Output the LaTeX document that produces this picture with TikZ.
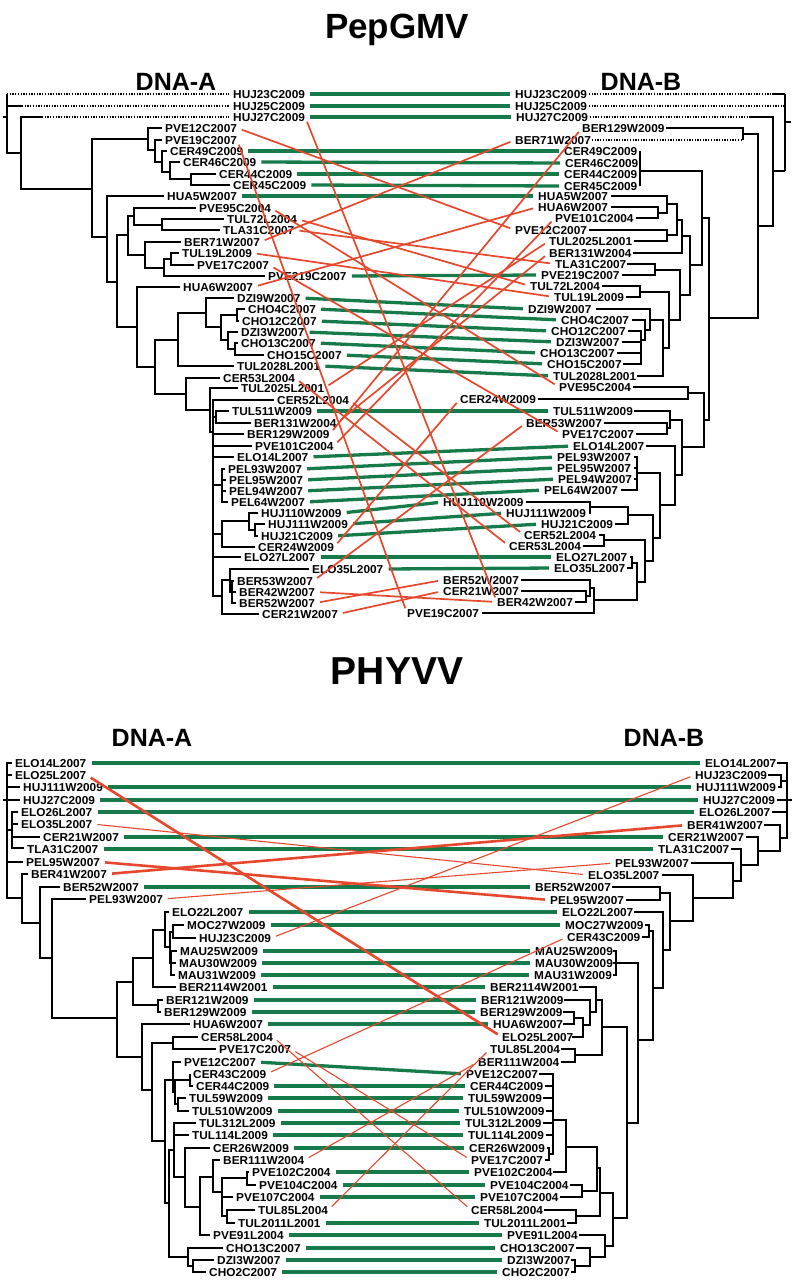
\documentclass[tikz,border=0pt]{standalone}
\usepackage{fontspec}
\setmainfont{Liberation Sans}
\newfontfamily\lblfont{Liberation Sans}[FakeStretch=1.03]
\definecolor{grn}{RGB}{22,122,74}
\definecolor{rd}{RGB}{230,72,45}

\begin{document}
\begin{tikzpicture}[x=1pt, y=-1pt,
  lbl/.style={font=\lblfont\bfseries\fontsize{11.5}{12}\selectfont, inner sep=0pt,
    anchor=west, text height=8.2pt, text depth=0pt},
  ttl/.style={font=\bfseries\fontsize{35}{40}\selectfont, anchor=base, inner sep=0pt},
  hdr/.style={font=\bfseries\fontsize{25}{28}\selectfont, anchor=base, inner sep=0pt},
  br/.style={line width=1.9pt},
  dots/.style={line width=1.3pt, dash pattern=on 1.3pt off 1.4pt},
  same/.style={draw=grn, line width=3.3pt, shorten <=5pt, shorten >=5pt},
  swap/.style={draw=rd, line width=1.7pt, shorten <=5pt, shorten >=5pt},
  swapthick/.style={swap, line width=2.6pt},
  swapthin/.style={swap, line width=1.1pt}
]
  \useasboundingbox (0,0) rectangle (794,1280);

  % Titles
  \node[ttl] (tpep) at (397,38) {PepGMV};
  \node[ttl, font=\bfseries\fontsize{39}{42}\selectfont] (tphy) at (397,684) {PHYVV};
  \node[hdr] (pepA) at (176,90) {DNA-A};
  \node[hdr] (pepB) at (641,90) {DNA-B};
  \node[hdr] (phyA) at (152,746) {DNA-A};
  \node[hdr] (phyB) at (664,746) {DNA-B};

  % PepGMV labels, DNA-A
  \foreach \n/\x/\y in {HUJ23C2009/233/94, HUJ25C2009/233/106, HUJ27C2009/233/117,
      PVE12C2007/165/128, PVE19C2007/165/140, CER49C2009/170/151, CER46C2009/183/162,
      CER44C2009/219/174, CER45C2009/233/185, HUA5W2007/167/196, PVE95C2004/199/208,
      TUL72L2004/227/219, TLA31C2007/223/230, BER71W2007/184/242, TUL19L2009/182/253,
      PVE17C2007/197/265, PVE219C2007/268/276, HUA6W2007/183/287, DZI9W2007/237/298,
      CHO4C2007/248/309, CHO12C2007/242/321, DZI3W2007/241/332, CHO13C2007/241/343,
      CHO15C2007/267/355, TUL2028L2001/237/366, CER53L2004/223/378, TUL2025L2001/241/388,
      CER52L2004/277/400, TUL511W2009/232/411, BER131W2004/254/423, BER129W2009/247/434,
      PVE101C2004/255/446, ELO14L2007/237/457, PEL93W2007/228/469, PEL95W2007/229/480,
      PEL94W2007/229/491, PEL64W2007/231/502, HUJ110W2009/261/513, HUJ111W2009/268/524,
      HUJ21C2009/261/536, CER24W2009/258/547, ELO27L2007/244/557, ELO35L2007/312/569,
      BER53W2007/237/581, BER42W2007/239/592, BER52W2007/239/603, CER21W2007/262/614}
    \node[lbl] (a\n) at (\x,\y) {\n};

  % PepGMV labels, DNA-B
  \foreach \n/\x/\y in {HUJ23C2009/515/94, HUJ25C2009/515/106, HUJ27C2009/516/117,
      BER129W2009/582/128, BER71W2007/515/140, CER49C2009/564/151, CER46C2009/565/163,
      CER44C2009/564/174, CER45C2009/564/186, HUA5W2007/538/196, HUA6W2007/538/207,
      PVE101C2004/555/218, PVE12C2007/515/230, TUL2025L2001/549/241, BER131W2004/549/253,
      TLA31C2007/555/264, PVE219C2007/541/275, TUL72L2004/530/286, TUL19L2009/554/297,
      DZI9W2007/528/309, CHO4C2007/561/320, CHO12C2007/551/331, DZI3W2007/556/342,
      CHO13C2007/540/353, CHO15C2007/547/364, TUL2028L2001/553/376, PVE95C2004/559/387,
      CER24W2009/460/399, TUL511W2009/553/411, BER53W2007/526/423, PVE17C2007/562/434,
      ELO14L2007/573/446, PEL93W2007/557/457, PEL95W2007/557/468, PEL94W2007/558/479,
      PEL64W2007/544/490, HUJ110W2009/443/502, HUJ111W2009/506/513, HUJ21C2009/541/524,
      CER52L2004/524/535, CER53L2004/509/546, ELO27L2007/556/557, ELO35L2007/554/568,
      BER52W2007/443/580, CER21W2007/443/591, BER42W2007/497/602, PVE19C2007/407/613}
    \node[lbl] (b\n) at (\x,\y) {\n};

  % PHYVV labels, DNA-A
  \foreach \n/\x/\y in {ELO14L2007/15/763, ELO25L2007/15/775, HUJ111W2009/23/787,
      HUJ27C2009/23/800, ELO26L2007/21/812, ELO35L2007/21/824, CER21W2007/43/837,
      TLA31C2007/27/849, PEL95W2007/26/862, BER41W2007/31/874, BER52W2007/63/887,
      PEL93W2007/89/899, ELO22L2007/172/912, MOC27W2009/187/925, HUJ23C2009/199/938,
      MAU25W2009/180/951, MAU30W2009/179/963, MAU31W2009/178/975, BER2114W2001/179/987,
      BER121W2009/166/1000, BER129W2009/164/1012, HUA6W2007/193/1024, CER58L2004/201/1037,
      PVE17C2007/219/1049, PVE12C2007/184/1062, CER43C2009/193/1074, CER44C2009/196/1086,
      TUL59W2009/189/1098, TUL510W2009/192/1111, TUL312L2009/199/1123, TUL114L2009/192/1135,
      CER26W2009/213/1148, BER111W2004/223/1160, PVE102C2004/252/1172, PVE104C2004/259/1185,
      PVE107C2004/236/1197, TUL85L2004/258/1210, TUL2011L2001/238/1223, PVE91L2004/213/1235,
      CHO13C2007/226/1248, DZI3W2007/217/1260, CHO2C2007/209/1272}
    \node[lbl] (c\n) at (\x,\y) {\n};

  % PHYVV labels, DNA-B
  \foreach \n/\x/\y in {ELO14L2007/705/763, HUJ23C2009/695/775, HUJ111W2009/696/787,
      HUJ27C2009/703/800, ELO26L2007/699/812, BER41W2007/687/825, CER21W2007/668/837,
      TLA31C2007/658/849, PEL93W2007/615/863, ELO35L2007/588/875, BER52W2007/535/887,
      PEL95W2007/550/900, ELO22L2007/562/912, MOC27W2009/565/925, CER43C2009/567/937,
      MAU25W2009/535/951, MAU30W2009/535/963, MAU31W2009/534/975, BER2114W2001/490/987,
      BER121W2009/481/1000, BER129W2009/480/1012, HUA6W2007/493/1024, ELO25L2007/502/1037,
      TUL85L2004/490/1049, BER111W2004/478/1062, PVE12C2007/466/1074, CER44C2009/470/1086,
      TUL59W2009/468/1098, TUL510W2009/464/1111, TUL312L2009/465/1123, TUL114L2009/468/1135,
      CER26W2009/469/1148, PVE17C2007/471/1160, PVE102C2004/474/1172, PVE104C2004/490/1185,
      PVE107C2004/480/1197, CER58L2004/471/1210, TUL2011L2001/484/1223, PVE91L2004/507/1235,
      CHO13C2007/500/1248, DZI3W2007/507/1260, CHO2C2007/502/1272}
    \node[lbl] (d\n) at (\x,\y) {\n};

  % PepGMV tree, DNA-A
  \draw[br] (7,94) -- (7,153) -- (21,153);
  \draw[br] (3,117) -- (7,117);
  \draw[dots] (7,94) -- (229,94);
  \draw[br] (7,106) -- (22,106);
  \draw[dots] (22,106) -- (229,106);
  \draw[br] (42,117) -| (21,189) -- (92,189);
  \draw[dots] (42,117) -- (229,117);
  \draw[br] (148,139) -| (92,237) -- (107,237);
  \draw[br] (162,128) -| (148,150) -- (155,150);
  \draw[br] (162,140) -| (155,162) -- (162,162);
  \draw[br] (167,151) -| (162,172) -- (170,172);
  \draw[br] (180,162) -| (170,179) -- (191,179);
  \draw[br] (216,174) -| (191,185) -- (230,185);
  \draw[br] (164,196) -| (107,282) -- (117,282);
  \draw[br] (128,235) -| (117,327) -- (137,327);
  \draw[br] (134,216) -| (128,255) -- (145,255);
  \draw[br] (196,208) -| (134,225) -- (162,225);
  \draw[br] (224,219) -| (162,230) -- (220,230);
  \draw[br] (181,242) -| (145,268) -- (164,268);
  \draw[br] (171,259) -| (164,276) -- (265,276);
  \draw[br] (179,253) -| (171,265) -- (194,265);
  \draw[br] (180,287) -| (137,367) -- (155,367);
  \draw[br] (178,340) -| (155,394) -- (186,394);
  \draw[br] (206,313) -| (178,366) -- (234,366);
  \draw[br] (234,298) -| (206,327) -- (221,327);
  \draw[br] (237,315) -| (221,340) -- (228,340);
  \draw[br] (245,309) -| (237,321) -- (239,321);
  \draw[br] (238,332) -| (228,349) -- (235,349);
  \draw[br] (238,343) -| (235,355) -- (264,355);
  \draw[br] (220,378) -| (186,410) -- (210,410);
  \draw[br] (238,388) -| (210,432) -- (213,432);
  \draw[br] (274,400) -| (213,596) -- (222,596);
  \draw[br] (229,411) -| (216,423) -- (251,423);
  \draw[br] (213,417) -- (216,417);
  \draw[br] (213,434) -- (244,434);
  \draw[br] (213,446) -- (252,446);
  \draw[br] (213,457) -- (234,457);
  \draw[br] (225,469) -| (222,502) -- (228,502);
  \draw[br] (222,480) -- (226,480);
  \draw[br] (222,491) -- (226,491);
  \draw[br] (213,485) -- (222,485);
  \draw[br] (258,513) -| (249,530) -- (255,530);
  \draw[br] (265,524) -| (255,536) -- (258,536);
  \draw[br] (249,521) -| (222,547) -- (255,547);
  \draw[br] (213,534) -- (222,534);
  \draw[br] (213,557) -- (241,557);
  \draw[br] (230,580) -| (222,614) -- (259,614);
  \draw[br] (309,569) -| (230,592) -- (232,592);
  \draw[br] (234,581) -| (232,603) -- (236,603);
  \draw[br] (232,592) -- (236,592);

  % PepGMV tree, DNA-B
  \draw[br] (785,94) -- (785,171);
  \draw[br] (785,122) -- (791,122);
  \draw[dots] (589,94) -- (772,94);
  \draw[br] (772,94) -- (785,94);
  \draw[dots] (589,106) -- (785,106);
  \draw[dots] (590,117) -- (750,117);
  \draw[br] (750,117) -| (773,226) -- (758,226);
  \draw[br] (773,171) -- (785,171);
  \draw[br] (743,134) -| (758,318) -- (709,318);
  \draw[br] (666,128) -| (743,140);
  \draw[dots] (592,140) -- (743,140);
  \draw[br] (702,218) -| (709,420) -- (704,420);
  \draw[br] (640,171) -| (702,265) -- (690,265);
  \draw[br] (640,151) -- (640,186);
  \draw[br] (682,236) -| (690,295) -- (680,295);
  \draw[br] (677,220) -| (682,253) -- (633,253);
  \draw[br] (667,204) -| (677,235) -- (667,235);
  \draw[br] (611,196) -| (667,213) -- (658,213);
  \draw[br] (611,207) -| (658,218) -- (636,218);
  \draw[br] (589,230) -| (667,241) -- (634,241);
  \draw[br] (655,270) -| (680,320) -- (669,320);
  \draw[br] (627,264) -| (655,275) -- (622,275);
  \draw[br] (640,292) -| (669,348) -- (663,348);
  \draw[br] (602,286) -| (640,297) -- (626,297);
  \draw[br] (650,320) -| (663,376) -- (637,376);
  \draw[br] (596,309) -| (650,330) -- (645,330);
  \draw[br] (632,320) -| (645,340) -- (641,340);
  \draw[br] (628,331) -| (641,364) -- (623,364);
  \draw[br] (622,342) -- (641,342);
  \draw[br] (617,353) -- (641,353);
  \draw[br] (688,393) -| (704,447) -- (682,447);
  \draw[br] (633,387) -| (688,399) -- (538,399);
  \draw[br] (670,420) -| (682,475) -- (675,475);
  \draw[br] (634,411) -| (670,428) -- (667,428);
  \draw[br] (604,423) -| (667,434) -- (636,434);
  \draw[br] (646,446) -| (675,505) -- (660,505);
  \draw[br] (637,473) -| (660,538) -- (653,538);
  \draw[br] (634,457) -| (637,490) -- (621,490);
  \draw[br] (634,468) -- (637,468);
  \draw[br] (634,479) -- (637,479);
  \draw[br] (628,515) -| (653,561) -- (645,561);
  \draw[br] (590,507) -| (628,524) -- (615,524);
  \draw[br] (526,502) -| (590,513) -- (589,513);
  \draw[br] (604,540) -| (645,582) -- (637,582);
  \draw[br] (599,535) -| (604,546) -- (583,546);
  \draw[br] (632,563) -| (637,600) -- (594,600);
  \draw[br] (630,557) -| (632,568) -- (627,568);
  \draw[br] (590,588) -| (594,613) -- (482,613);
  \draw[br] (521,580) -| (590,596) -- (586,596);
  \draw[br] (521,591) -| (586,602) -- (575,602);

  % PHYVV tree, DNA-A
  \draw[br] (12,763) -| (7,898) -- (22,898);
  \draw[br] (3,800) -- (7,800);
  \draw[br] (7,775) -- (12,775);
  \draw[br] (7,787) -- (20,787);
  \draw[br] (7,800) -- (20,800);
  \draw[br] (7,830) -- (12,830);
  \draw[br] (7,862) -- (23,862);
  \draw[br] (18,812) -| (12,848) -- (24,848);
  \draw[br] (12,824) -- (18,824);
  \draw[br] (12,837) -- (40,837);
  \draw[br] (28,874) -| (22,923) -- (40,923);
  \draw[br] (60,887) -| (40,958) -- (52,958);
  \draw[br] (86,899) -| (52,1018) -- (117,1018);
  \draw[br] (133,982) -| (117,1057) -- (142,1057);
  \draw[br] (153,958) -| (133,1005) -- (158,1005);
  \draw[br] (163,1000) -| (158,1012) -- (161,1012);
  \draw[br] (165,930) -| (153,987) -- (176,987);
  \draw[br] (169,912) -| (165,947) -- (170,947);
  \draw[br] (173,932) -| (170,963) -- (171,963);
  \draw[br] (184,925) -| (173,938) -- (196,938);
  \draw[br] (177,951) -| (171,975) -- (175,975);
  \draw[br] (171,963) -- (176,963);
  \draw[br] (190,1024) -| (142,1090) -- (152,1090);
  \draw[br] (173,1043) -| (152,1141) -- (165,1141);
  \draw[br] (198,1037) -| (173,1049) -- (216,1049);
  \draw[br] (173,1080) -| (165,1203) -- (169,1203);
  \draw[br] (181,1062) -| (173,1092) -- (175,1092);
  \draw[br] (190,1080) -| (175,1104) -- (178,1104);
  \draw[br] (190,1074) -- (190,1086) -- (193,1086);
  \draw[br] (186,1098) -| (178,1111) -- (189,1111);
  \draw[br] (174,1150) -| (169,1257) -- (188,1257);
  \draw[br] (196,1123) -| (174,1177) -- (185,1177);
  \draw[br] (174,1135) -- (189,1135);
  \draw[br] (210,1148) -| (185,1207) -- (200,1207);
  \draw[br] (213,1177) -| (200,1235) -- (210,1235);
  \draw[br] (220,1160) -| (213,1192) -- (222,1192);
  \draw[br] (247,1178) -| (222,1216) -- (227,1216);
  \draw[br] (222,1197) -- (233,1197);
  \draw[br] (249,1172) -| (247,1185) -- (256,1185);
  \draw[br] (255,1210) -| (227,1223) -- (235,1223);
  \draw[br] (223,1248) -| (188,1266) -- (193,1266);
  \draw[br] (214,1260) -| (193,1272) -- (206,1272);

  % PHYVV tree, DNA-B
  \draw[br] (777,763) -| (787,838) -- (780,838);
  \draw[br] (787,800) -- (792,800);
  \draw[br] (768,775) -| (781,787) -- (778,787);
  \draw[br] (781,781) -- (787,781);
  \draw[br] (777,800) -- (787,800);
  \draw[br] (772,812) -- (787,812);
  \draw[br] (764,825) -| (780,851) -- (758,851);
  \draw[br] (746,837) -| (758,865) -- (741,865);
  \draw[br] (731,849) -| (741,881) -- (733,881);
  \draw[br] (691,863) -| (733,898) -- (693,898);
  \draw[br] (662,875) -| (693,921) -- (670,921);
  \draw[br] (660,893) -| (670,950) -- (663,950);
  \draw[br] (612,887) -| (660,900) -- (626,900);
  \draw[br] (634,912) -| (663,988) -- (653,988);
  \draw[br] (645,925) -| (649,937) -- (642,937);
  \draw[br] (649,931) -| (653,1040) -- (638,1040);
  \draw[br] (613,951) -| (616,975) -- (613,975);
  \draw[br] (613,963) -- (616,963);
  \draw[br] (616,963) -| (638,1123) -- (627,1123);
  \draw[br] (602,1027) -| (627,1218) -- (613,1218);
  \draw[br] (596,1000) -| (602,1055) -- (575,1055);
  \draw[br] (579,987) -| (596,1012) -- (590,1012);
  \draw[br] (564,1000) -| (590,1025) -- (583,1025);
  \draw[br] (574,1018) -| (583,1037) -- (572,1037);
  \draw[br] (563,1012) -| (574,1024) -- (563,1024);
  \draw[br] (561,1049) -| (575,1062) -- (561,1062);
  \draw[br] (600,1193) -| (613,1246) -- (605,1246);
  \draw[br] (597,1168) -| (600,1216) -- (576,1216);
  \draw[br] (566,1147) -| (597,1191) -- (582,1191);
  \draw[br] (570,1185) -| (582,1197) -- (560,1197);
  \draw[br] (544,1210) -| (576,1223) -- (567,1223);
  \draw[br] (553,1120) -| (566,1172) -- (553,1172);
  \draw[br] (539,1074) -| (553,1154) -- (549,1154);
  \draw[br] (545,1086) -- (553,1086);
  \draw[br] (543,1098) -- (553,1098);
  \draw[br] (546,1111) -- (553,1111);
  \draw[br] (543,1123) -- (553,1123);
  \draw[br] (546,1135) -- (553,1135);
  \draw[br] (547,1148) -| (549,1160) -- (545,1160);
  \draw[br] (579,1235) -| (605,1257) -- (590,1257);
  \draw[br] (576,1248) -| (590,1266) -- (575,1266);
  \draw[br] (571,1260) -| (575,1272) -- (571,1272);

  % PepGMV links
  \foreach \n in {HUJ23C2009, HUJ25C2009, HUJ27C2009, CER49C2009, CER46C2009,
      CER44C2009, CER45C2009, HUA5W2007, PVE219C2007, DZI9W2007, CHO4C2007,
      CHO12C2007, DZI3W2007, CHO13C2007, CHO15C2007, TUL2028L2001, TUL511W2009,
      ELO14L2007, PEL93W2007, PEL95W2007, PEL94W2007, PEL64W2007, HUJ110W2009,
      HUJ111W2009, HUJ21C2009, ELO27L2007, ELO35L2007}
    \draw[same] (a\n.east) -- (b\n.west);
  \foreach \n in {PVE12C2007, PVE19C2007, PVE95C2004, TUL72L2004, TLA31C2007,
      BER71W2007, TUL19L2009, PVE17C2007, HUA6W2007, CER53L2004, TUL2025L2001,
      CER52L2004, BER131W2004, BER129W2009, PVE101C2004, CER24W2009, BER53W2007,
      BER42W2007, BER52W2007, CER21W2007}
    \draw[swap] (a\n.east) -- (b\n.west);
  \draw[swap] (aHUJ27C2009.east) -- (bBER42W2007.west);

  % PHYVV links
  \foreach \n in {ELO14L2007, HUJ111W2009, HUJ27C2009, ELO26L2007, CER21W2007,
      TLA31C2007, BER52W2007, ELO22L2007, MOC27W2009, MAU25W2009, MAU30W2009,
      MAU31W2009, BER2114W2001, BER121W2009, BER129W2009, HUA6W2007, PVE12C2007,
      CER44C2009, TUL59W2009, TUL510W2009, TUL312L2009, TUL114L2009, CER26W2009,
      PVE102C2004, PVE104C2004, PVE107C2004, TUL2011L2001, PVE91L2004, CHO13C2007,
      DZI3W2007, CHO2C2007}
    \draw[same] (c\n.east) -- (d\n.west);
  \foreach \n in {ELO25L2007, PEL95W2007, BER41W2007}
    \draw[swapthick] (c\n.east) -- (d\n.west);
  \foreach \n in {ELO35L2007, PEL93W2007, HUJ23C2009, CER58L2004, PVE17C2007,
      CER43C2009, BER111W2004, TUL85L2004}
    \draw[swapthin] (c\n.east) -- (d\n.west);
\end{tikzpicture}
\end{document}
